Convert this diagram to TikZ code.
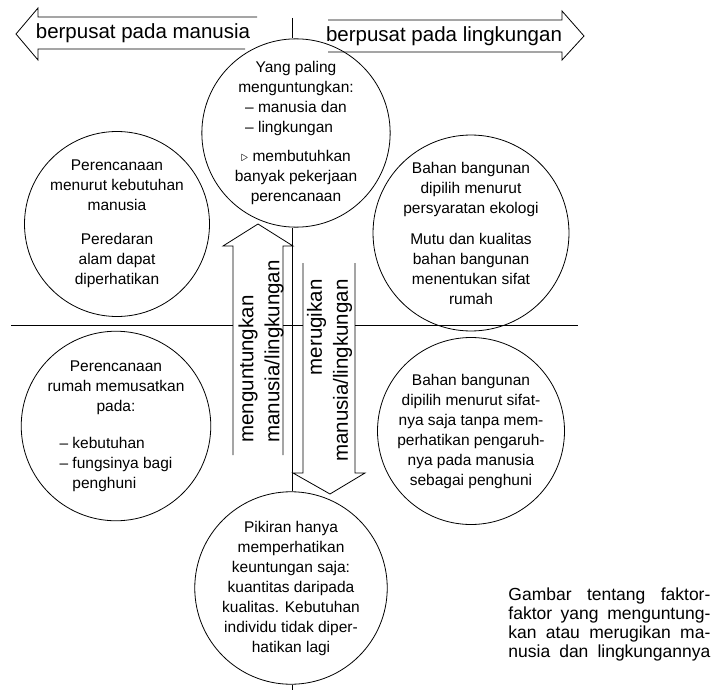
\documentclass[tikz,border=0pt]{standalone}
\usepackage{fontspec}
\setmainfont{Liberation Sans}
\usepackage{calc}

\newcommand{\padto}[2]{\makebox[\widthof{#1}][l]{#2}}
\newcommand{\circtext}{\fontsize{15.5}{20}\selectfont}
\newcommand{\bigtext}{\fontsize{20.5}{26}\selectfont}
\newcommand{\captext}{\fontsize{17.5}{19}\selectfont}

\begin{document}
\begin{tikzpicture}[x=1pt, y=-1pt, line width=0.8pt,
    blob/.style={circle, draw, minimum size=#1, inner sep=0pt, align=center, font=\circtext},
    side/.style={font=\bigtext, inner sep=0pt},
    vlabel/.style={font=\bigtext, inner sep=0pt, rotate=90}]
  \useasboundingbox (0,0) rectangle (712,690);

  % circles
  \node[blob=186pt] (untung) at (296,133) {Yang paling\\menguntungkan:\\
    \padto{\textendash{} manusia dan}{\textendash{} manusia dan}\\
    \padto{\textendash{} manusia dan}{\textendash{} lingkungan}\\[9pt]
    $\triangleright$ membutuhkan\\banyak pekerjaan\\perencanaan};
  \node[blob=185pt] (manusiaA) at (117,224) {Perencanaan\\menurut kebutuhan\\manusia\\[14pt]
    Peredaran\\alam dapat\\diperhatikan};
  \node[blob=186pt] (lingkA) at (471,233) {Bahan bangunan\\dipilih menurut\\persyaratan ekologi\\[11pt]
    Mutu dan kualitas\\bahan bangunan\\menentukan sifat\\rumah};
  \node[blob=182pt] (manusiaB) at (116,426) {Perencanaan\\rumah memusatkan\\pada:\\[17pt]
    \padto{\textendash{} fungsinya bagi}{\textendash{} kebutuhan}\\
    \padto{\textendash{} fungsinya bagi}{\textendash{} fungsinya bagi}\\
    \padto{\textendash{} fungsinya bagi}{\phantom{\textendash{} }penghuni}};
  \node[blob=187pt] (lingkB) at (471,431) {Bahan bangunan\\dipilih menurut sifat-\\nya saja tanpa mem-\\
    perhatikan pengaruh-\\nya pada manusia\\sebagai penghuni};
  \node[blob=190pt] (rugi) at (291,588) {Pikiran hanya\\memperhatikan\\keuntungan saja:\\
    kuantitas daripada\\kualitas. Kebutuhan\\individu tidak diper-\\hatikan lagi};

  % axes
  \coordinate (ntop) at (292,18);
  \coordinate (nbot) at (292,690);
  \draw (ntop) -- (ntop |- untung.north);
  \draw (untung.south -| ntop) -- (rugi.north -| ntop);
  \draw (rugi.south -| ntop) -- (nbot);
  \foreach \a/\b in {11/233, 283/303, 355/578}
    \draw (\a,325) -- (\b,325);

  % top arrows
  \draw (257,17) -- (38,17) -- (38,8) -- (16,34) -- (38,60) -- (38,49) -- (245,49);
  \draw (328,20) -- (562,20) -- (562,11) -- (584,36) -- (562,60) -- (562,52) -- (328,52);
  \node[side] (pmanusia) at (143,33) {berpusat pada manusia};
  \node[side] (plingkungan) at (444,36) {berpusat pada lingkungan};

  % up and down arrows
  \draw (233,455) -- (233,246) -- (223,246) -- (258,224) -- (293,246) -- (283,246) -- (283,455);
  \draw (303,263) -- (303,473) -- (293,473) -- (330,494) -- (365,473) -- (355,473) -- (355,263);
  \node[vlabel, align=left, anchor=west] (naik) at (261,443) {menguntungkan\\manusia/lingkungan};
  \node[vlabel, align=right, anchor=east] (turun) at (329.5,279) {merugikan\\manusia/lingkungan};

  % caption
  \node[anchor=north west, inner sep=0pt, align=left, font=\captext] (ket) at (508,587) {%
    \makebox[202pt][s]{Gambar tentang faktor-}\\
    \makebox[202pt][s]{faktor yang menguntung-}\\
    \makebox[202pt][s]{kan atau merugikan ma-}\\
    \makebox[202pt][s]{nusia dan lingkungannya}};
\end{tikzpicture}
\end{document}
